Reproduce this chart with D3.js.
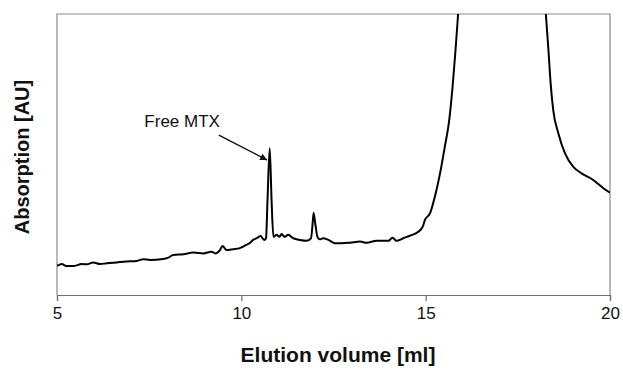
<!DOCTYPE html>
<html>
<head>
<meta charset="utf-8">
<script src="https://cdn.jsdelivr.net/npm/d3@7"></script>
<style>
  body { margin: 0; background: #fff; }
  svg { display: block; font-family: "Liberation Sans", Arial, sans-serif; }
</style>
</head>
<body>
<script>
'use strict';

// elution volume (ml) and absorption (AU, arbitrary)
const elution = [
  5.00, 5.13, 5.26, 5.44, 5.67, 5.81, 5.98, 6.17, 6.35, 6.62, 6.89, 7.16, 7.34, 7.52,
  7.88, 8.02, 8.15, 8.43, 8.70, 8.97, 9.20, 9.29, 9.42, 9.49, 9.60, 9.78, 9.94, 10.05,
  10.13, 10.23, 10.32, 10.42, 10.52, 10.62, 10.67, 10.71, 10.77, 10.82, 10.87, 10.96,
  11.03, 11.09, 11.17, 11.27, 11.41, 11.59, 11.77, 11.89, 11.93, 11.96, 12.01, 12.07,
  12.13, 12.22, 12.36, 12.54, 12.72, 12.95, 13.22, 13.40, 13.67, 13.99, 14.10, 14.21,
  14.39, 14.57, 14.80, 14.92, 14.98, 15.12, 15.25, 15.39, 15.52, 15.64, 15.73, 15.81,
  15.88, 16.00, 16.40, 17.00, 17.60, 18.00, 18.20, 18.26, 18.33, 18.39, 18.46, 18.60,
  18.78, 19.00, 19.23, 19.55, 19.82, 20.00
];
const absorption = [
  10.4, 11.0, 10.3, 10.3, 11.0, 10.9, 11.6, 11.0, 11.3, 11.6, 11.9, 12.1, 12.7, 12.5,
  12.8, 13.3, 14.2, 14.5, 15.1, 14.8, 15.4, 14.8, 16.0, 17.4, 16.0, 16.3, 16.6, 17.2,
  17.8, 18.5, 19.6, 20.2, 21.0, 19.6, 20.3, 33.8, 52.2, 33.8, 20.7, 21.4,
  20.7, 21.7, 20.7, 21.4, 20.2, 19.6, 19.3, 20.2, 24.9, 29.3, 24.9, 20.5,
  19.8, 20.2, 19.6, 18.4, 18.4, 18.6, 19.0, 18.6, 19.3, 19.3, 20.4, 19.3,
  20.2, 21.1, 22.5, 24.3, 26.7, 29.1, 35.0, 43.3, 52.8, 62.3, 74.1, 87.2,
  100, 125, 190, 230, 210, 150, 112, 100, 87.2, 75.3, 65.8, 57.5,
  50.4, 45.7, 43.3, 40.9, 38.0, 36.4
];
const xTicks = [5, 10, 15, 20];

// annotation: label start and arrow in data units
const noteText = "Free MTX";
const notePos = [7.37, 59.7];
const arrowFrom = [9.39, 56.9];
const arrowTo = [10.70, 48.0];

const width = 623, height = 371;
const margin = { top: 14, right: 13, bottom: 76, left: 57 };

const svg = d3.select('body').append('svg')
  .attr('width', width)
  .attr('height', height);

const x = d3.scaleLinear().domain([5, 20]).range([margin.left, width - margin.right]);
const y = d3.scaleLinear().domain([0, 100]).range([height - margin.bottom, margin.top]);

// clip so the big peak runs off the top of the frame
svg.append('clipPath').attr('id', 'plot-clip')
  .append('rect')
  .attr('x', margin.left).attr('y', margin.top)
  .attr('width', x.range()[1] - margin.left)
  .attr('height', y.range()[0] - margin.top);

// gray frame (left, top, right)
svg.append('path')
  .attr('d', `M${x(5)},${y(0)}V${y(100)}H${x(20)}V${y(0)}`)
  .attr('fill', 'none')
  .attr('stroke', '#8a8a8a')
  .attr('stroke-width', 1.2);

// bottom axis
const xAxis = d3.axisBottom(x).tickValues(xTicks).tickSize(6).tickPadding(6).tickFormat(d3.format('d'));
const gx = svg.append('g')
  .attr('transform', `translate(0,${y(0)})`)
  .call(xAxis);
gx.select('.domain').attr('stroke', '#6e6e6e').attr('stroke-width', 1.2);
gx.selectAll('.tick line').attr('stroke', '#6e6e6e').attr('stroke-width', 1.2);
gx.selectAll('.tick text')
  .attr('fill', '#111')
  .style('font-size', '17px')
  .style('font-family', '"Liberation Sans", Arial, sans-serif');

// chromatogram trace
const points = elution.map((v, i) => [v, absorption[i]]);
const line = d3.line()
  .x(d => x(d[0]))
  .y(d => y(d[1]))
  .curve(d3.curveMonotoneX);

svg.append('path')
  .datum(points)
  .attr('clip-path', 'url(#plot-clip)')
  .attr('d', line)
  .attr('fill', 'none')
  .attr('stroke', '#000')
  .attr('stroke-width', 2)
  .attr('stroke-linejoin', 'round');

// arrow head
svg.append('defs').append('marker')
  .attr('id', 'arrow')
  .attr('viewBox', '0 0 10 10')
  .attr('refX', 10).attr('refY', 5)
  .attr('markerWidth', 9).attr('markerHeight', 7)
  .attr('markerUnits', 'userSpaceOnUse')
  .attr('orient', 'auto')
  .append('path')
  .attr('d', 'M0,0L10,5L0,10Z')
  .attr('fill', '#111');

svg.append('line')
  .attr('x1', x(arrowFrom[0])).attr('y1', y(arrowFrom[1]))
  .attr('x2', x(arrowTo[0])).attr('y2', y(arrowTo[1]))
  .attr('stroke', '#111')
  .attr('stroke-width', 1.3)
  .attr('marker-end', 'url(#arrow)');

svg.append('text')
  .attr('x', x(notePos[0]))
  .attr('y', y(notePos[1]))
  .style('font-size', '17px')
  .attr('fill', '#111')
  .text(noteText);

// axis titles
svg.append('text')
  .attr('x', 338)
  .attr('y', 362)
  .attr('text-anchor', 'middle')
  .style('font-size', '21px')
  .style('font-weight', 'bold')
  .attr('fill', '#111')
  .text('Elution volume [ml]');

svg.append('text')
  .attr('transform', 'translate(28.5,157)rotate(-90)')
  .attr('text-anchor', 'middle')
  .style('font-size', '20px')
  .style('font-weight', 'bold')
  .attr('fill', '#111')
  .text('Absorption [AU]');
</script>
</body>
</html>
